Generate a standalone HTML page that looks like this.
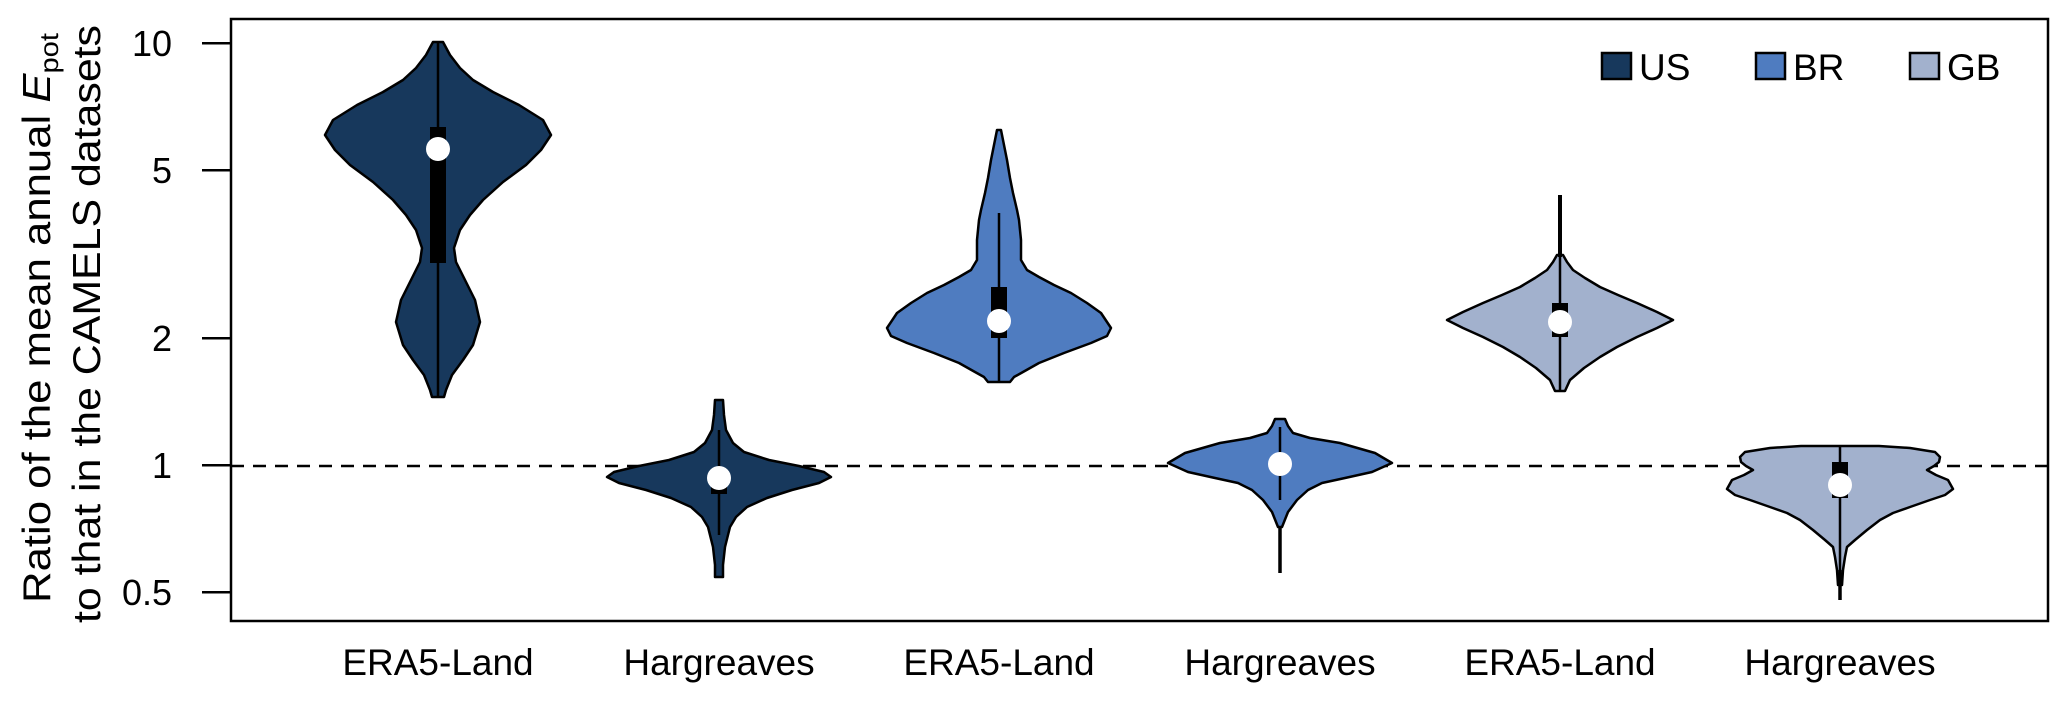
<!DOCTYPE html>
<html><head><meta charset="utf-8"><style>html,body{margin:0;padding:0;background:#fff}svg{display:block}</style></head>
<body>
<svg width="2067" height="701" viewBox="0 0 2067 701" xmlns="http://www.w3.org/2000/svg" font-family="'Liberation Sans', Arial, sans-serif">
<rect width="2067" height="701" fill="#fff"/>
<!-- dashed line -->
<line x1="231" y1="466" x2="2048" y2="466" stroke="#000" stroke-width="2.5" stroke-dasharray="13 9"/>
<g stroke="#000" stroke-width="2.5" stroke-linejoin="round">
<!-- V1 -->
<polygon fill="#17385c" points="443,42 450,55 460,68 473,80 493,92 519,105 543,120 551,135 541,150 526,165 503,182 483,200 470,215 460,230 454,248 456,262 465,280 475,300 480,322 473,345 463,360 452,375 446,390 444,397 432,397 430,390 424,375 413,360 403,345 396,322 401,300 411,280 420,262 422,248 416,230 406,215 393,200 373,182 350,165 335,150 325,135 333,120 357,105 383,92 403,80 416,68 426,55 433,42"/>
<!-- V2 -->
<polygon fill="#17385c" points="723,400 724,415 726,430 733,443 744,452 769,460 799,466 824,472 831,477 819,483 792,490 767,498 747,507 736,517 730,527 725,547 723,565 723,577 715,577 715,565 713,547 708,527 702,517 691,507 671,498 646,490 619,483 607,477 614,472 639,466 669,460 694,452 705,443 712,430 714,415 715,400"/>
<!-- V3 -->
<polygon fill="#4f7cc0" points="1001,130 1004,145 1007,160 1010,178 1013,193 1017,210 1019,220 1021,240 1021,260 1027,270 1039,277 1054,285 1071,293 1087,303 1101,313 1111,328 1107,336 1091,343 1064,353 1039,363 1023,372 1014,377 1010,382 988,382 984,377 975,372 959,363 934,353 907,343 891,336 887,328 897,313 911,303 927,293 944,285 959,277 971,270 977,260 977,240 979,220 981,210 985,193 988,178 991,160 994,145 997,130"/>
<!-- V4 -->
<polygon fill="#4f7cc0" points="1285,419 1288,426 1293,433 1310,438 1340,443 1375,453 1392,463 1372,472 1345,478 1322,483 1308,490 1297,500 1288,512 1282,527 1278,527 1272,512 1263,500 1252,490 1238,483 1215,478 1188,472 1168,463 1185,453 1220,443 1250,438 1267,433 1272,426 1275,419"/>
<!-- V5 -->
<polygon fill="#a2b1cd" points="1563,255 1567,262 1573,270 1585,278 1600,287 1618,295 1637,303 1657,312 1673,320 1657,328 1637,337 1617,347 1600,357 1584,368 1570,380 1565,391 1555,391 1550,380 1536,368 1520,357 1503,347 1483,337 1463,328 1447,320 1463,312 1483,303 1502,295 1520,287 1535,278 1547,270 1553,262 1557,255"/>
<!-- V6 -->
<polygon fill="#a2b1cd" points="1879,446 1910,448 1935,452 1940,457 1939,462 1934,466 1927,470 1936,475 1948,480 1953,489 1945,495 1930,500 1910,507 1893,513 1880,520 1867,530 1855,540 1847,547 1845,557 1843,570 1842,585 1838,585 1837,570 1835,557 1833,547 1825,540 1813,530 1800,520 1787,513 1770,507 1750,500 1735,495 1727,489 1732,480 1744,475 1753,470 1746,466 1741,462 1740,457 1745,452 1770,448 1801,446"/>
</g>
<!-- whiskers -->
<g stroke="#000" stroke-width="2.5">
<line x1="438" y1="42" x2="438" y2="397"/>
<line x1="719" y1="430" x2="719" y2="535"/>
<line x1="999" y1="213" x2="999" y2="382"/>
<line x1="1280" y1="427" x2="1280" y2="500"/>
<line x1="1280" y1="527" x2="1280" y2="573" stroke-width="3.5"/>
<line x1="1560" y1="195" x2="1560" y2="391"/>
<line x1="1560" y1="195" x2="1560" y2="257" stroke-width="4"/>
<line x1="1840" y1="446" x2="1840" y2="600"/>
<line x1="1840" y1="570" x2="1840" y2="600" stroke-width="3.5"/>
</g>
<!-- boxes -->
<g fill="#000">
<rect x="430" y="127" width="16" height="136"/>
<rect x="711" y="478" width="16" height="16"/>
<rect x="991" y="287" width="16" height="51"/>
<rect x="1272" y="458" width="16" height="14"/>
<rect x="1552" y="303" width="16" height="34"/>
<rect x="1832" y="462" width="16" height="36"/>
</g>
<g fill="#fff">
<circle cx="438" cy="149" r="12"/>
<circle cx="719" cy="478" r="12"/>
<circle cx="999" cy="321" r="12"/>
<circle cx="1280" cy="464" r="12"/>
<circle cx="1560" cy="322" r="12"/>
<circle cx="1840" cy="485" r="12"/>
</g>
<!-- frame -->
<rect x="231" y="19" width="1817" height="602" fill="none" stroke="#000" stroke-width="2.5"/>
<!-- y ticks -->
<g stroke="#000" stroke-width="2.5">
<line x1="202" y1="43.3" x2="231" y2="43.3"/>
<line x1="202" y1="170.3" x2="231" y2="170.3"/>
<line x1="202" y1="338.3" x2="231" y2="338.3"/>
<line x1="202" y1="465.3" x2="231" y2="465.3"/>
<line x1="202" y1="592.3" x2="231" y2="592.3"/>
</g>
<g font-size="36" text-anchor="end" fill="#000">
<text x="172" y="56">10</text>
<text x="172" y="183">5</text>
<text x="172" y="351">2</text>
<text x="172" y="478">1</text>
<text x="172" y="605">0.5</text>
</g>
<!-- y title -->
<text transform="translate(50,318) rotate(-90)" font-size="39" text-anchor="middle" textLength="570" lengthAdjust="spacingAndGlyphs">Ratio of the mean annual <tspan font-style="italic">E</tspan><tspan font-size="26" dy="8">pot</tspan></text>
<text transform="translate(100,324) rotate(-90)" font-size="39" text-anchor="middle" textLength="598" lengthAdjust="spacingAndGlyphs">to that in the CAMELS datasets</text>
<!-- x labels -->
<g font-size="37" text-anchor="middle" fill="#000">
<text x="438" y="675">ERA5-Land</text>
<text x="719" y="675">Hargreaves</text>
<text x="999" y="675">ERA5-Land</text>
<text x="1280" y="675">Hargreaves</text>
<text x="1560" y="675">ERA5-Land</text>
<text x="1840" y="675">Hargreaves</text>
</g>
<!-- legend -->
<g stroke="#000" stroke-width="2.5">
<rect x="1602" y="53" width="29" height="26" fill="#17385c"/>
<rect x="1756" y="53" width="29" height="26" fill="#4f7cc0"/>
<rect x="1910" y="53" width="29" height="26" fill="#a2b1cd"/>
</g>
<g font-size="37" fill="#000">
<text x="1639" y="80">US</text>
<text x="1793" y="80">BR</text>
<text x="1947" y="80">GB</text>
</g>
</svg>
</body></html>
